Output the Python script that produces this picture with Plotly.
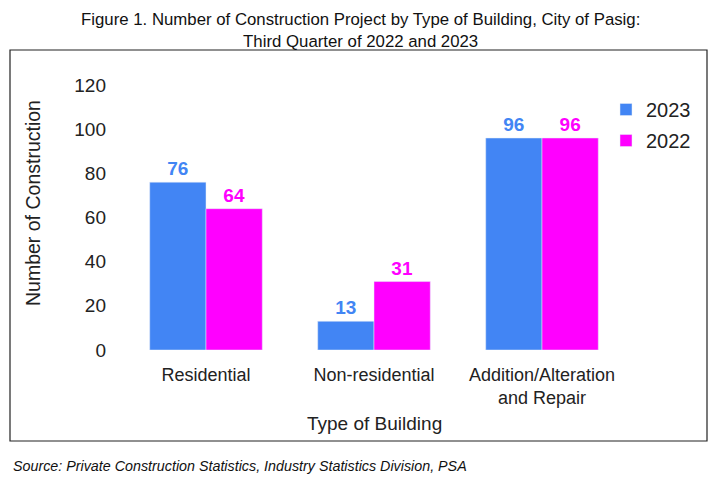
import plotly.graph_objects as go

categories = ["Residential", "Non-residential", "Addition/Alteration<br>and Repair"]
values_2023 = [76, 13, 96]
values_2022 = [64, 31, 96]
y_ticks = [0, 20, 40, 60, 80, 100, 120]

BLUE = "#4285F4"
MAGENTA = "#FF00FF"
FONT = "Liberation Sans, Arial, sans-serif"

# the page body has an 8px margin, so work in page pixels and shift back
OFF = 8
# plot area in page pixels: x 122..626, y 85..350
L, R, T, B = 122 - OFF, 720 - (626 - OFF), 85 - OFF, 481 - (350 - OFF)
W, H = 720 - L - R, 481 - T - B


def px(x):
    return (x - OFF - L) / W


def py(y):
    return (481 - B - (y - OFF)) / H


fig = go.Figure()
fig.add_trace(go.Bar(x=categories, y=values_2023, name="2023", marker_color=BLUE,
                     legendgroup="a",
                     text=values_2023, textposition="outside", cliponaxis=False,
                     textfont=dict(color=BLUE, size=19, family=FONT, weight="bold")))
fig.add_trace(go.Bar(x=categories, y=values_2022, name="2022", marker_color=MAGENTA,
                     legendgroup="b",
                     text=values_2022, textposition="outside", cliponaxis=False,
                     textfont=dict(color=MAGENTA, size=19, family=FONT, weight="bold")))

fig.update_layout(
    width=720, height=481,
    margin=dict(l=L, r=R, t=T, b=B),
    paper_bgcolor="white", plot_bgcolor="white",
    font=dict(family=FONT, color="#222222"),
    barmode="group", bargap=0.33, bargroupgap=0,
    showlegend=True,
    legend=dict(x=px(606), y=py(90), xanchor="left", yanchor="top",
                font=dict(size=20, family=FONT), itemwidth=30,
                tracegroupgap=2, bgcolor="rgba(0,0,0,0)"),
    xaxis=dict(showline=False, ticks="", tickfont=dict(size=18, family=FONT),
               showgrid=False, ticklabelstandoff=12),
    yaxis=dict(range=[0, 120], tickvals=y_ticks, showgrid=False, showline=False,
               zeroline=False, tickfont=dict(size=19, family=FONT),
               ticklabelstandoff=15),
    shapes=[dict(type="rect", xref="paper", yref="paper",
                 x0=px(10), x1=px(707), y0=py(441), y1=py(50),
                 line=dict(color="#222222", width=1.2), fillcolor="rgba(0,0,0,0)",
                 layer="below")],
    annotations=[
        dict(text="Figure 1. Number of Construction Project by Type of Building, City of Pasig:<br>"
                  "Third Quarter of 2022 and 2023",
             xref="paper", yref="paper", x=px(360), y=py(30), xanchor="center", yanchor="middle",
             showarrow=False, font=dict(size=16.8, family=FONT, color="#111111")),
        dict(text="Number of Construction", textangle=-90, xref="paper", yref="paper",
             x=px(33), y=py(203), xanchor="center", yanchor="middle", showarrow=False,
             font=dict(size=19.5, family=FONT)),
        dict(text="Type of Building", xref="paper", yref="paper", x=px(374), y=py(423),
             xanchor="center", yanchor="middle", showarrow=False,
             font=dict(size=19, family=FONT)),
        dict(text="<i>Source: Private Construction Statistics, Industry Statistics Division, PSA</i>",
             xref="paper", yref="paper", x=px(11), y=py(466), xanchor="left", yanchor="middle",
             showarrow=False, font=dict(size=14.3, family=FONT, color="#111111")),
    ],
)

fig.write_html("out.html")
